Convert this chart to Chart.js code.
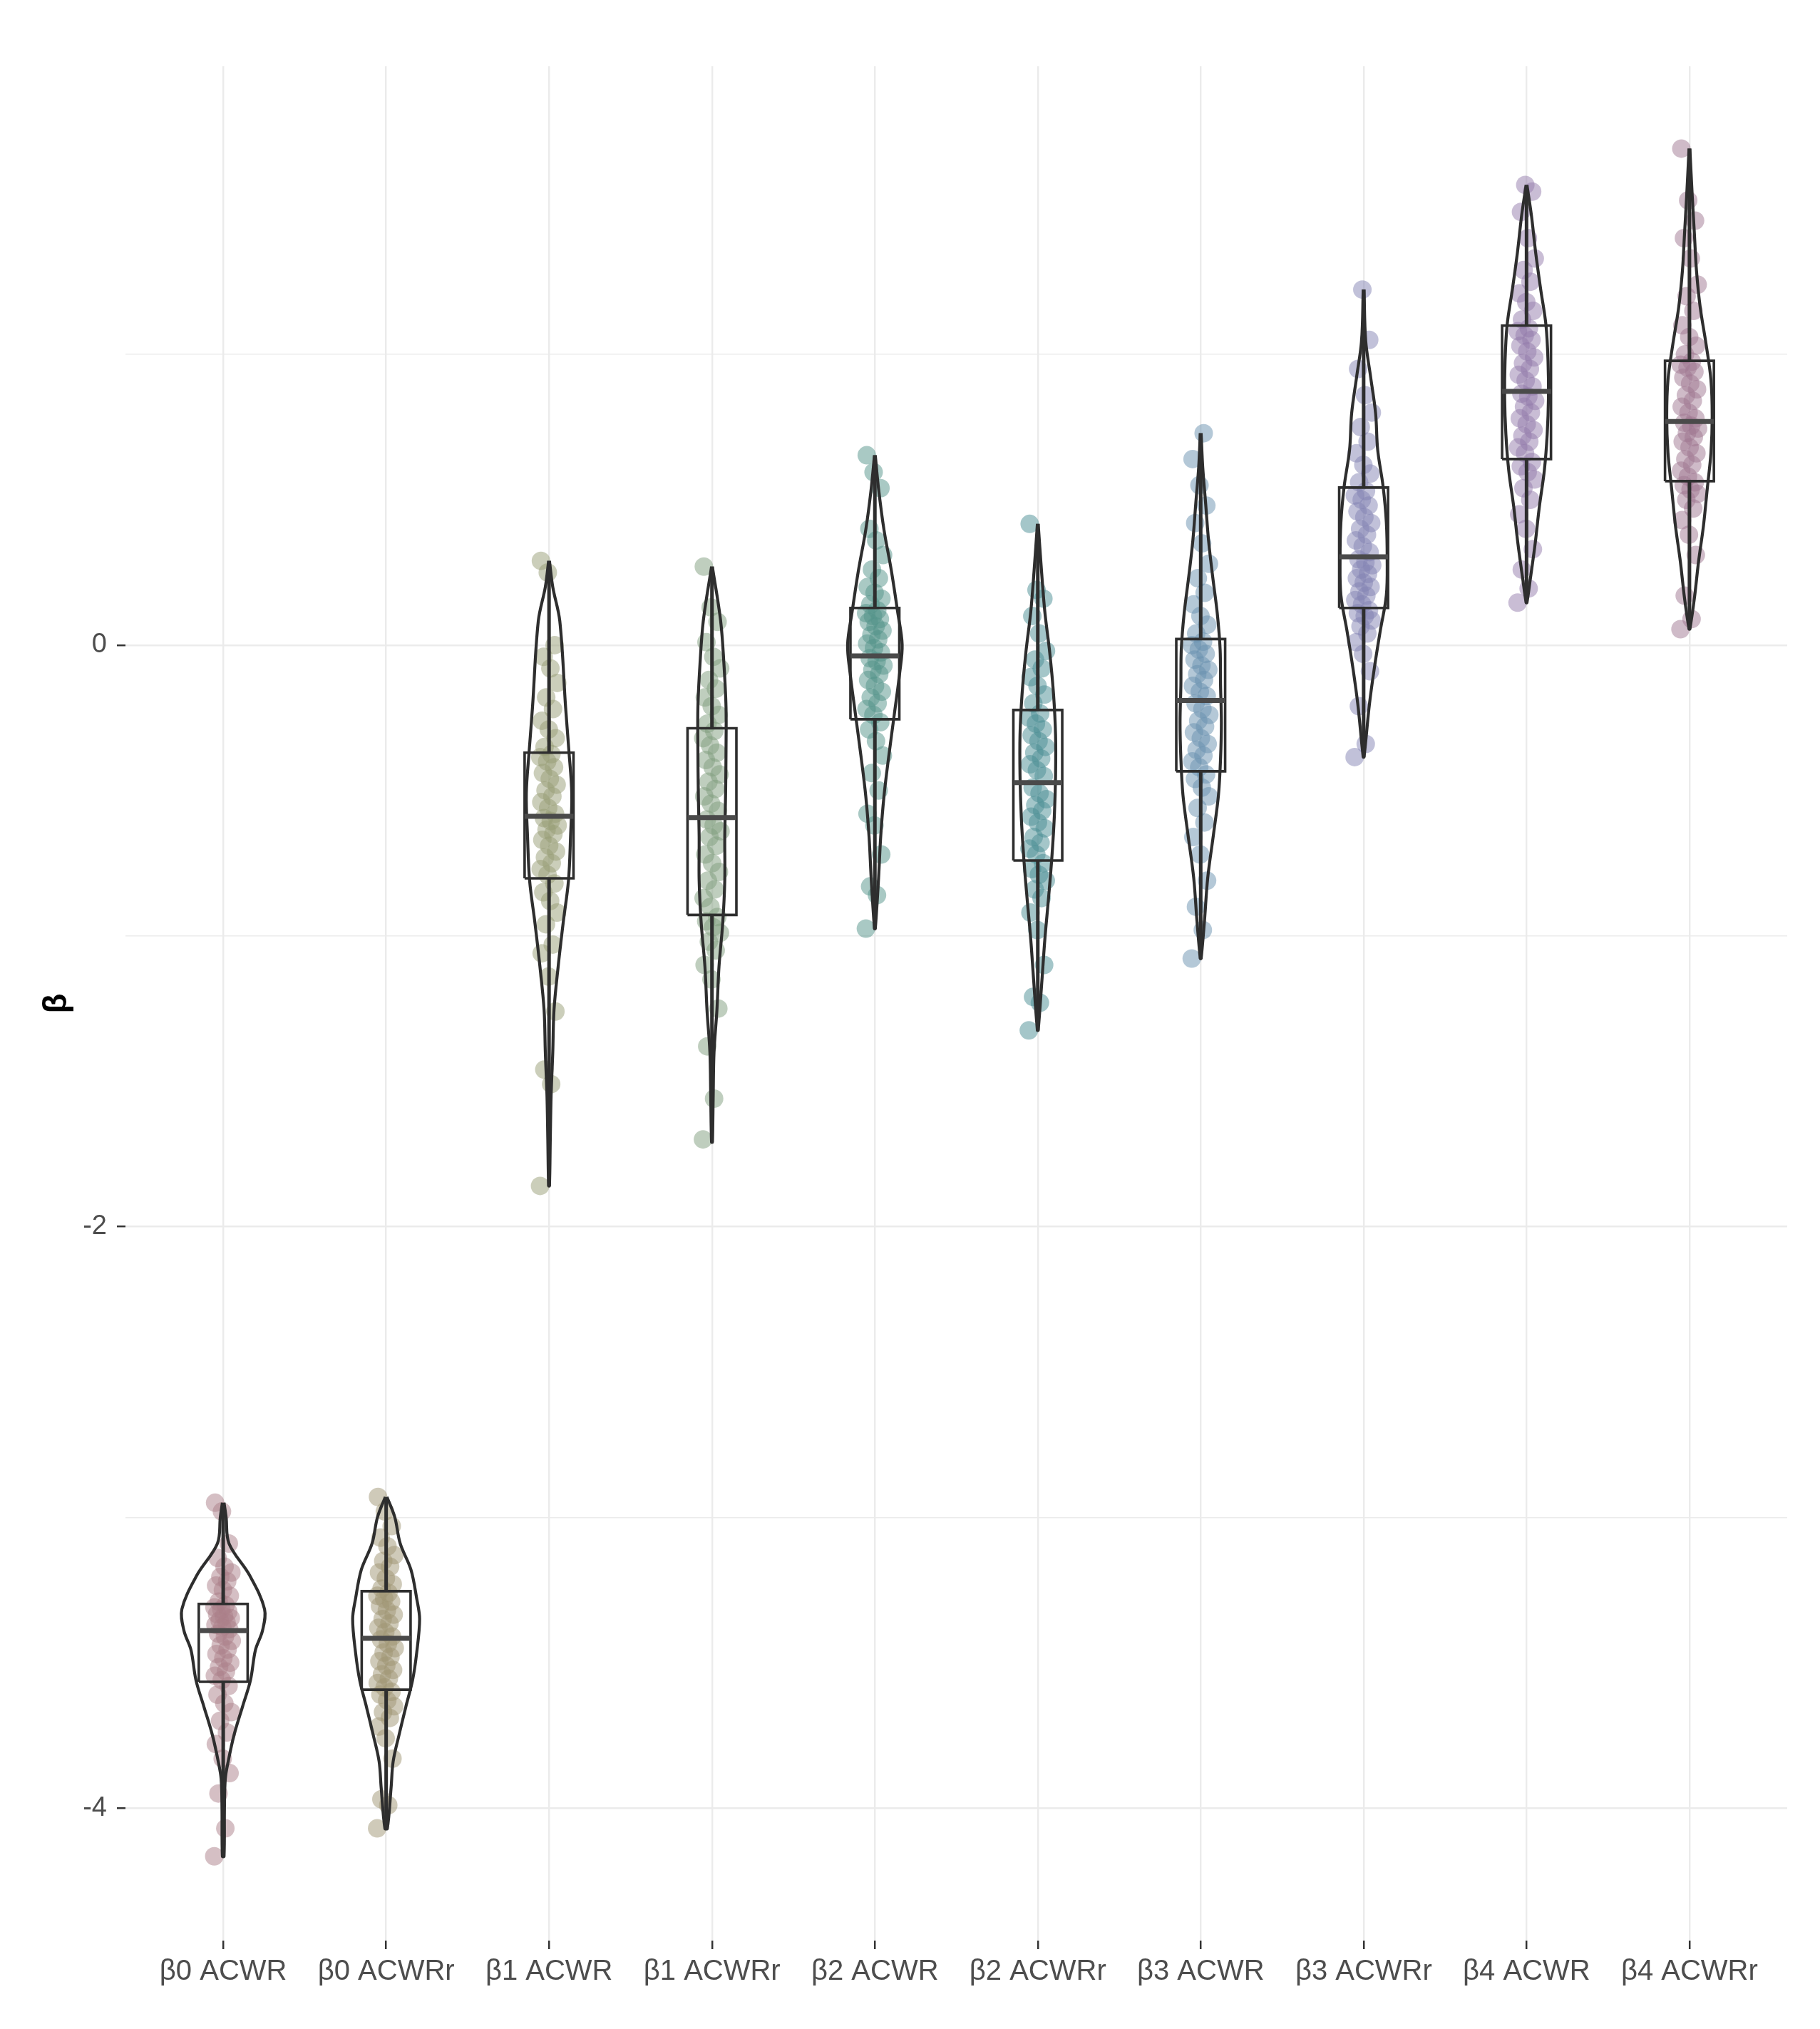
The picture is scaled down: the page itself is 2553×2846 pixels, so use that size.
<!DOCTYPE html>
<html>
<head>
<meta charset="utf-8">
<script src="https://cdn.jsdelivr.net/npm/chart.js@4.4.0/dist/chart.umd.min.js"></script>
<style>
  html, body { margin: 0; padding: 0; background: #fff; }
  #wrap { width: 2553px; height: 2846px; }
</style>
</head>
<body>
<div id="wrap"><canvas id="chart"></canvas></div>
<script>
const categories = ['β0 ACWR', 'β0 ACWRr', 'β1 ACWR', 'β1 ACWRr', 'β2 ACWR',
                    'β2 ACWRr', 'β3 ACWR', 'β3 ACWRr', 'β4 ACWR', 'β4 ACWRr'];
const yTicks = [-4, -3, -2, -1, 0, 1];
const yTickLabels = ['-4', '', '-2', '', '0', ''];

// box plot stats (whiskers run to the data extremes)
const boxMin    = [-4.166, -4.07, -1.86, -1.71, -0.975, -1.325, -1.078, -0.385, 0.146, 0.055];
const boxQ1     = [-3.566, -3.593, -0.802, -0.928, -0.255, -0.741, -0.434, 0.128, 0.640, 0.564];
const boxMedian = [-3.390, -3.416, -0.589, -0.593, -0.037, -0.473, -0.190, 0.304, 0.873, 0.769];
const boxQ3     = [-3.298, -3.254, -0.370, -0.286, 0.128, -0.223, 0.021, 0.542, 1.099, 0.978];
const boxMax    = [-2.950, -2.930, 0.290, 0.270, 0.653, 0.417, 0.729, 1.223, 1.583, 1.708];

// violin outlines: levels (top to bottom) and relative density at each level
const violinLevels = [
  [-2.95, -3.0, -3.09, -3.2, -3.316, -3.39, -3.456, -3.56, -3.65, -3.75, -3.84, -3.9, -4.0, -4.166],
  [-2.93, -3.0, -3.09, -3.18, -3.28, -3.35, -3.465, -3.56, -3.65, -3.75, -3.84, -3.93, -4.07],
  [0.29, 0.2, 0.083, -0.213, -0.363, -0.51, -0.66, -0.81, -0.957, -1.106, -1.255, -1.4, -1.55, -1.7, -1.86],
  [0.27, 0.083, -0.066, -0.213, -0.363, -0.51, -0.66, -0.81, -0.957, -1.106, -1.255, -1.4, -1.55, -1.71],
  [0.653, 0.537, 0.397, 0.255, 0.115, 0.002, -0.096, -0.238, -0.378, -0.52, -0.66, -0.8, -0.975],
  [0.417, 0.255, 0.115, -0.027, -0.167, -0.309, -0.449, -0.589, -0.731, -0.87, -1.013, -1.153, -1.325],
  [0.729, 0.61, 0.486, 0.36, 0.235, 0.11, -0.015, -0.14, -0.265, -0.39, -0.515, -0.65, -0.8, -0.95, -1.078],
  [1.223, 1.047, 0.922, 0.797, 0.672, 0.547, 0.422, 0.297, 0.172, 0.047, -0.078, -0.204, -0.385],
  [1.583, 1.476, 1.351, 1.226, 1.101, 0.976, 0.851, 0.726, 0.6, 0.476, 0.351, 0.226, 0.146],
  [1.708, 1.538, 1.413, 1.288, 1.162, 1.037, 0.912, 0.787, 0.662, 0.537, 0.412, 0.287, 0.162, 0.055]
];
const violinDensity = [
  [0.02, 0.07, 0.14, 0.64, 1.0, 0.95, 0.78, 0.66, 0.47, 0.26, 0.12, 0.05, 0.03, 0.02],
  [0.02, 0.21, 0.34, 0.60, 0.74, 0.81, 0.74, 0.64, 0.48, 0.31, 0.17, 0.12, 0.03],
  [0.01, 0.09, 0.26, 0.40, 0.48, 0.55, 0.52, 0.47, 0.34, 0.22, 0.12, 0.09, 0.05, 0.03, 0.01],
  [0.01, 0.21, 0.29, 0.34, 0.34, 0.33, 0.31, 0.31, 0.26, 0.17, 0.12, 0.05, 0.03, 0.01],
  [0.01, 0.09, 0.22, 0.40, 0.55, 0.66, 0.60, 0.47, 0.34, 0.22, 0.14, 0.09, 0.01],
  [0.01, 0.09, 0.17, 0.29, 0.38, 0.43, 0.43, 0.40, 0.34, 0.26, 0.17, 0.10, 0.01],
  [0.01, 0.05, 0.12, 0.19, 0.29, 0.40, 0.47, 0.48, 0.50, 0.48, 0.43, 0.31, 0.17, 0.09, 0.01],
  [0.01, 0.05, 0.17, 0.29, 0.34, 0.47, 0.55, 0.57, 0.55, 0.40, 0.26, 0.14, 0.01],
  [0.01, 0.12, 0.22, 0.34, 0.47, 0.52, 0.53, 0.50, 0.43, 0.31, 0.21, 0.09, 0.01],
  [0.01, 0.07, 0.12, 0.17, 0.26, 0.40, 0.52, 0.55, 0.52, 0.43, 0.34, 0.22, 0.12, 0.01]
];

// estimated samples behind each violin
const samples = [
  [-4.166, -4.07, -3.95, -3.88, -3.83, -3.78, -3.74, -3.70, -3.67, -3.64, -3.61, -3.58,
   -3.56, -3.545, -3.53, -3.515, -3.50, -3.485, -3.47, -3.455, -3.44, -3.425, -3.41, -3.40,
   -3.385, -3.378, -3.37, -3.362, -3.355, -3.347, -3.34, -3.333, -3.325, -3.317, -3.31, -3.302,
   -3.29, -3.27, -3.25, -3.235, -3.22, -3.205, -3.19, -3.17, -3.14, -3.09, -2.98, -2.95],
  [-4.07, -3.99, -3.97, -3.83, -3.76, -3.72, -3.69, -3.67, -3.65, -3.63, -3.61, -3.60,
   -3.585, -3.57, -3.555, -3.54, -3.525, -3.51, -3.495, -3.48, -3.465, -3.45, -3.435, -3.42,
   -3.41, -3.395, -3.38, -3.365, -3.35, -3.335, -3.32, -3.305, -3.29, -3.28, -3.27, -3.26,
   -3.245, -3.23, -3.21, -3.19, -3.17, -3.15, -3.13, -3.10, -3.07, -3.03, -2.98, -2.93],
  [-1.86, -1.51, -1.46, -1.26, -1.14, -1.06, -1.03, -0.96, -0.92, -0.88, -0.85, -0.82,
   -0.79, -0.77, -0.75, -0.73, -0.71, -0.69, -0.67, -0.65, -0.635, -0.62, -0.605, -0.595,
   -0.58, -0.56, -0.54, -0.52, -0.50, -0.48, -0.46, -0.44, -0.42, -0.40, -0.385, -0.375,
   -0.35, -0.32, -0.29, -0.26, -0.22, -0.18, -0.13, -0.08, -0.04, 0.0, 0.25, 0.29],
  [-1.70, -1.56, -1.38, -1.25, -1.15, -1.10, -1.05, -1.02, -0.99, -0.97, -0.95, -0.935,
   -0.90, -0.87, -0.84, -0.81, -0.78, -0.75, -0.72, -0.69, -0.66, -0.64, -0.62, -0.60,
   -0.57, -0.545, -0.52, -0.495, -0.47, -0.445, -0.42, -0.395, -0.37, -0.345, -0.32, -0.295,
   -0.27, -0.24, -0.21, -0.18, -0.15, -0.12, -0.08, -0.04, 0.01, 0.08, 0.13, 0.27],
  [-0.975, -0.86, -0.83, -0.72, -0.62, -0.58, -0.50, -0.44, -0.38, -0.33, -0.29, -0.265,
   -0.24, -0.22, -0.20, -0.18, -0.16, -0.14, -0.12, -0.10, -0.085, -0.07, -0.055, -0.045,
   -0.025, -0.01, 0.005, 0.02, 0.035, 0.05, 0.065, 0.08, 0.09, 0.10, 0.11, 0.12,
   0.14, 0.16, 0.18, 0.20, 0.23, 0.26, 0.31, 0.36, 0.40, 0.54, 0.595, 0.653],
  [-1.325, -1.23, -1.21, -1.10, -0.98, -0.92, -0.87, -0.84, -0.81, -0.79, -0.77, -0.75,
   -0.72, -0.70, -0.68, -0.66, -0.63, -0.61, -0.59, -0.57, -0.55, -0.53, -0.51, -0.49,
   -0.45, -0.43, -0.41, -0.39, -0.37, -0.35, -0.33, -0.31, -0.29, -0.27, -0.25, -0.235,
   -0.20, -0.17, -0.14, -0.11, -0.08, -0.05, -0.02, 0.04, 0.10, 0.16, 0.19, 0.417],
  [-1.078, -0.98, -0.90, -0.81, -0.72, -0.66, -0.61, -0.56, -0.52, -0.49, -0.46, -0.445,
   -0.42, -0.40, -0.38, -0.36, -0.34, -0.32, -0.30, -0.28, -0.26, -0.24, -0.22, -0.20,
   -0.175, -0.16, -0.14, -0.12, -0.10, -0.085, -0.07, -0.05, -0.03, -0.015, 0.0, 0.012,
   0.04, 0.07, 0.10, 0.14, 0.18, 0.23, 0.28, 0.35, 0.42, 0.48, 0.55, 0.64, 0.729],
  [-0.385, -0.34, -0.21, -0.09, -0.03, 0.01, 0.04, 0.065, 0.085, 0.10, 0.11, 0.12,
   0.14, 0.155, 0.17, 0.185, 0.20, 0.215, 0.23, 0.245, 0.26, 0.275, 0.285, 0.295,
   0.32, 0.34, 0.36, 0.38, 0.40, 0.42, 0.44, 0.46, 0.48, 0.50, 0.515, 0.53,
   0.56, 0.59, 0.62, 0.66, 0.70, 0.75, 0.80, 0.86, 0.95, 1.05, 1.223],
  [0.146, 0.195, 0.26, 0.33, 0.40, 0.45, 0.50, 0.54, 0.57, 0.595, 0.615, 0.63,
   0.66, 0.68, 0.70, 0.72, 0.74, 0.76, 0.78, 0.80, 0.82, 0.84, 0.855, 0.865,
   0.89, 0.91, 0.93, 0.95, 0.97, 0.99, 1.01, 1.03, 1.05, 1.065, 1.08, 1.09,
   1.12, 1.15, 1.18, 1.21, 1.25, 1.29, 1.33, 1.40, 1.49, 1.56, 1.583],
  [0.055, 0.09, 0.17, 0.31, 0.38, 0.43, 0.47, 0.50, 0.52, 0.535, 0.55, 0.56,
   0.58, 0.60, 0.62, 0.64, 0.66, 0.68, 0.70, 0.715, 0.73, 0.745, 0.755, 0.765,
   0.78, 0.80, 0.82, 0.84, 0.86, 0.88, 0.90, 0.92, 0.94, 0.955, 0.965, 0.975,
   1.00, 1.03, 1.06, 1.10, 1.15, 1.20, 1.24, 1.33, 1.40, 1.46, 1.53, 1.708]
];

const pointColors = [
  'rgba(172,128,138,0.5)', 'rgba(160,150,116,0.5)', 'rgba(152,158,118,0.5)',
  'rgba(128,158,126,0.5)', 'rgba(84,148,138,0.5)', 'rgba(74,142,148,0.5)',
  'rgba(106,146,176,0.5)', 'rgba(132,132,180,0.5)', 'rgba(148,124,172,0.5)',
  'rgba(160,120,146,0.5)'
];

const FONT = 'Liberation Sans, Arial, sans-serif';
const VIOLIN_HALF = 58 / 228.6;   // half width (category units) for density 1
const BOX_HALF = 0.15;
const JITTER = 0.055;
const OUTLINE = '#2e2e2e';

function seg(points, color, width, order) {
  return {
    type: 'scatter', data: points, showLine: true, tension: 0,
    borderColor: color, borderWidth: width, pointRadius: 0, fill: false, order: order
  };
}

const datasets = [];
categories.forEach((name, i) => {
  const cx = i + 1;

  datasets.push({
    type: 'scatter',
    data: samples[i].map((v, j) => ({ x: cx + (((j * 0.6180339887) % 1) - 0.5) * 2 * JITTER, y: v })),
    backgroundColor: pointColors[i],
    borderWidth: 0,
    pointRadius: 13,
    order: 5
  });

  const lv = violinLevels[i], dn = violinDensity[i];
  const right = lv.map((v, k) => ({ x: cx + dn[k] * VIOLIN_HALF, y: v }));
  const left = lv.map((v, k) => ({ x: cx - dn[k] * VIOLIN_HALF, y: v })).reverse();
  const violin = seg(right.concat(left), OUTLINE, 4.2, 4);
  violin.tension = 0.35;
  datasets.push(violin);

  datasets.push(seg([{ x: cx, y: boxQ3[i] }, { x: cx, y: boxMax[i] }], OUTLINE, 5, 3));
  datasets.push(seg([{ x: cx, y: boxQ1[i] }, { x: cx, y: boxMin[i] }], OUTLINE, 5, 3));
  datasets.push(seg([
    { x: cx - BOX_HALF, y: boxQ1[i] }, { x: cx + BOX_HALF, y: boxQ1[i] },
    { x: cx + BOX_HALF, y: boxQ3[i] }, { x: cx - BOX_HALF, y: boxQ3[i] },
    { x: cx - BOX_HALF, y: boxQ1[i] }
  ], OUTLINE, 3.6, 2));
  datasets.push(seg([{ x: cx - BOX_HALF, y: boxMedian[i] }, { x: cx + BOX_HALF, y: boxMedian[i] }], '#4a4a4a', 7, 1));
});

new Chart(document.getElementById('chart'), {
  type: 'scatter',
  data: { datasets: datasets },
  options: {
    responsive: true,
    maintainAspectRatio: false,
    animation: false,
    devicePixelRatio: 1,
    layout: { padding: { top: 93, right: 46, bottom: 0, left: 0 } },
    plugins: { legend: { display: false }, tooltip: { enabled: false } },
    scales: {
      x: {
        type: 'linear', min: 0.4, max: 10.6,
        afterBuildTicks: s => { s.ticks = categories.map((c, i) => ({ value: i + 1 })); },
        afterFit: s => { s.height = 124; },
        ticks: {
          autoSkip: false, maxRotation: 0, padding: 8, color: '#4d4d4d',
          font: { family: FONT, size: 40 },
          callback: v => categories[Math.round(v) - 1]
        },
        grid: { color: '#ebebeb', lineWidth: 2.4, tickLength: 12, tickColor: '#333', tickWidth: 2.5 },
        border: { display: false }
      },
      y: {
        type: 'linear', min: -4.456, max: 1.991,
        afterBuildTicks: s => { s.ticks = yTicks.map(v => ({ value: v })); },
        afterFit: s => { s.width = 176; },
        ticks: {
          padding: 14, color: '#4d4d4d',
          font: { family: FONT, size: 38 },
          callback: v => yTickLabels[yTicks.indexOf(v)]
        },
        grid: {
          color: '#ebebeb',
          lineWidth: ctx => (ctx.tick && ctx.tick.value % 2 === 0) ? 2.4 : 1.4,
          tickLength: 12,
          tickColor: ctx => (ctx.tick && ctx.tick.value % 2 === 0) ? '#333' : 'rgba(0,0,0,0)',
          tickWidth: 2.5
        },
        border: { display: false },
        title: {
          display: true, text: 'β', color: '#000',
          font: { family: FONT, size: 46, weight: 'bold' },
          padding: { top: 53, bottom: 0 }
        }
      }
    }
  }
});
</script>
</body>
</html>
